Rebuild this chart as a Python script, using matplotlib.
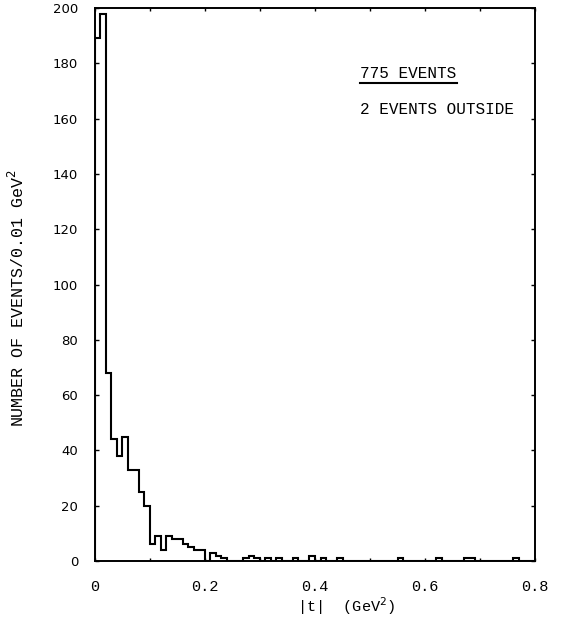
import numpy as np
import matplotlib
matplotlib.use("Agg")
import matplotlib.pyplot as plt
from matplotlib.lines import Line2D

# |t| histogram, 0.01 GeV^2 bins from 0 to 0.8
bin_edges = np.round(np.arange(0, 0.805, 0.01), 3)
counts = [
    189, 198, 68, 44, 38, 45, 33, 33, 25, 20,
    6, 9, 4, 9, 8, 8, 6, 5, 4, 4,
    0, 3, 2, 1, 0, 0, 0, 1, 2, 1,
    0, 1, 0, 1, 0, 0, 1, 0, 0, 2,
    0, 1, 0, 0, 1, 0, 0, 0, 0, 0,
    0, 0, 0, 0, 0, 1, 0, 0, 0, 0,
    0, 0, 1, 0, 0, 0, 0, 1, 1, 0,
    0, 0, 0, 0, 0, 0, 1, 0, 0, 0,
]
x_ticks = [0, 0.2, 0.4, 0.6, 0.8]
x_tick_labels = ["0", "0.2", "0.4", "0.6", "0.8"]
y_ticks = list(range(0, 201, 20))
y_tick_labels = [str(v) for v in y_ticks]
total_label = "775 EVENTS"
outside_label = "2 EVENTS OUTSIDE"

mono = ["Liberation Mono", "DejaVu Sans Mono"]
sans = ["DejaVu Sans"]

fig = plt.figure(figsize=(5.61, 6.22), dpi=100)
ax = fig.add_axes([0.169, 0.098, 0.785, 0.889])

ax.stairs(counts, bin_edges, baseline=0, color="black", linewidth=1.5)

ax.set_xlim(0, 0.8)
ax.set_ylim(0, 200)

ax.set_xticks(x_ticks)
ax.set_xticklabels(x_tick_labels, family=mono, fontsize=11)
ax.set_xticks(np.round(np.arange(0, 0.81, 0.1), 2), minor=True)
ax.set_yticks(y_ticks)
ax.set_yticklabels(y_tick_labels, family=sans, fontsize=9.5)

ax.tick_params(axis="x", which="both", direction="in", length=2, width=1,
               top=True, pad=14)
ax.tick_params(axis="y", which="both", direction="in", length=3, width=1,
               right=True, pad=12)

for side in ax.spines.values():
    side.set_linewidth(1.4)

# axis titles placed in figure pixels
W, H = 561, 622
fig.text(297 / W, 1 - 606 / H, "|t|  (GeV$^2$)", family=mono, fontsize=11,
         ha="left", va="center")
fig.text(16.5 / W, 1 - 298 / H, "NUMBER OF EVENTS/0.01 GeV$^2$", family=mono,
         fontsize=12, rotation=90, ha="center", va="center")

ax.text(0.602, 0.882, total_label, transform=ax.transAxes, family=mono,
        fontsize=11.5, ha="left", va="center")
ax.add_line(Line2D([0.602, 0.823], [0.864, 0.864], transform=ax.transAxes,
                   color="black", linewidth=1.5))
ax.text(0.602, 0.816, outside_label, transform=ax.transAxes, family=mono,
        fontsize=11.5, ha="left", va="center")

fig.savefig("out.png", dpi=100)
